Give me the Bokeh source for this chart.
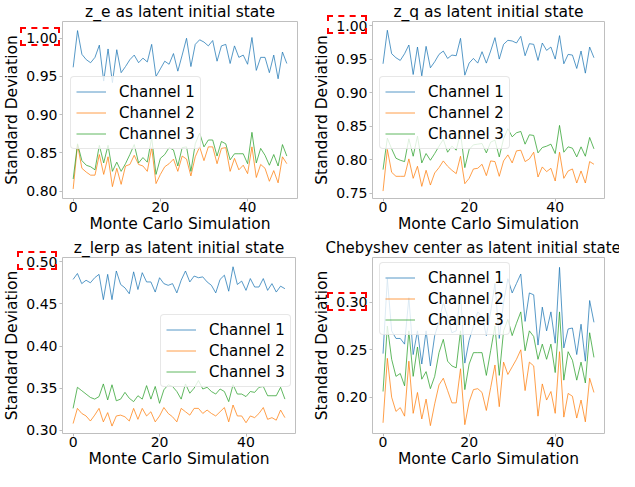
from bokeh.plotting import figure
from bokeh.layouts import column, row
from bokeh.models import FixedTicker, Range1d, Legend, LegendItem, Div, PrintfTickFormatter
from bokeh.embed import file_html
from bokeh.resources import INLINE

FONT = "DejaVu Sans"

# ---------------- data ----------------
mc = list(range(50))
channel_labels = ["Channel 1", "Channel 2", "Channel 3"]
x_ticks = [0, 20, 40]

titles = ["z_e as latent initial state", "z_q as latent initial state",
          "z_lerp as latent initial state", "Chebyshev center as latent initial state"]

ze_c1 = [0.962, 1.010, 0.979, 0.972, 0.968, 0.975, 0.991, 0.944, 0.986, 0.942,
         0.985, 0.955, 0.963, 0.972, 0.978, 0.968, 0.974, 0.969, 0.992, 0.950,
         0.960, 0.970, 0.966, 0.980, 0.957, 0.978, 1.000, 0.963, 0.992, 0.998,
         0.995, 0.990, 0.997, 0.970, 0.990, 0.992, 0.967, 0.990, 0.975, 0.978,
         0.966, 1.001, 0.958, 0.975, 0.975, 0.955, 0.978, 0.947, 0.982, 0.967]
ze_c2 = [0.803, 0.861, 0.830, 0.825, 0.821, 0.821, 0.848, 0.822, 0.845, 0.806,
         0.830, 0.809, 0.833, 0.835, 0.847, 0.835, 0.833, 0.826, 0.857, 0.810,
         0.822, 0.832, 0.836, 0.842, 0.826, 0.846, 0.842, 0.820, 0.845, 0.858,
         0.840, 0.858, 0.858, 0.836, 0.856, 0.857, 0.826, 0.843, 0.828, 0.834,
         0.823, 0.858, 0.818, 0.835, 0.830, 0.813, 0.827, 0.811, 0.845, 0.836]
ze_c3 = [0.816, 0.862, 0.840, 0.834, 0.832, 0.828, 0.860, 0.837, 0.860, 0.826,
         0.838, 0.826, 0.836, 0.848, 0.861, 0.837, 0.844, 0.838, 0.870, 0.822,
         0.843, 0.848, 0.857, 0.854, 0.833, 0.857, 0.858, 0.826, 0.862, 0.876,
         0.858, 0.867, 0.867, 0.846, 0.865, 0.862, 0.841, 0.849, 0.849, 0.849,
         0.836, 0.877, 0.837, 0.856, 0.847, 0.834, 0.848, 0.833, 0.861, 0.846]

zq_c1 = [0.943, 0.993, 0.958, 0.952, 0.948, 0.958, 0.971, 0.927, 0.968, 0.925,
         0.969, 0.937, 0.946, 0.957, 0.962, 0.951, 0.956, 0.955, 0.981, 0.926,
         0.944, 0.951, 0.944, 0.961, 0.944, 0.962, 0.982, 0.950, 0.972, 0.978,
         0.977, 0.974, 0.984, 0.955, 0.973, 0.972, 0.948, 0.974, 0.963, 0.968,
         0.950, 0.985, 0.943, 0.957, 0.956, 0.936, 0.962, 0.929, 0.968, 0.952]
zq_c2 = [0.753, 0.815, 0.781, 0.775, 0.775, 0.775, 0.801, 0.772, 0.790, 0.760,
         0.784, 0.762, 0.780, 0.788, 0.798, 0.790, 0.784, 0.779, 0.805, 0.764,
         0.772, 0.786, 0.787, 0.793, 0.776, 0.798, 0.797, 0.775, 0.798, 0.807,
         0.795, 0.813, 0.814, 0.797, 0.801, 0.811, 0.774, 0.789, 0.782, 0.787,
         0.768, 0.811, 0.772, 0.783, 0.786, 0.765, 0.783, 0.765, 0.797, 0.793]
zq_c3 = [0.785, 0.832, 0.816, 0.802, 0.799, 0.797, 0.831, 0.805, 0.835, 0.795,
         0.809, 0.799, 0.809, 0.820, 0.830, 0.811, 0.820, 0.814, 0.840, 0.788,
         0.815, 0.822, 0.823, 0.824, 0.810, 0.826, 0.829, 0.804, 0.831, 0.846,
         0.834, 0.840, 0.842, 0.823, 0.837, 0.836, 0.810, 0.818, 0.820, 0.823,
         0.809, 0.851, 0.811, 0.819, 0.817, 0.804, 0.819, 0.805, 0.833, 0.816]

zl_c1 = [0.479, 0.486, 0.474, 0.478, 0.475, 0.481, 0.485, 0.455, 0.485, 0.455,
         0.489, 0.473, 0.469, 0.462, 0.488, 0.467, 0.487, 0.476, 0.476, 0.464,
         0.481, 0.474, 0.472, 0.474, 0.463, 0.478, 0.489, 0.476, 0.483, 0.481,
         0.482, 0.476, 0.472, 0.463, 0.479, 0.484, 0.465, 0.494, 0.473, 0.477,
         0.466, 0.480, 0.470, 0.470, 0.480, 0.466, 0.474, 0.464, 0.471, 0.468]
zl_c2 = [0.308, 0.326, 0.320, 0.317, 0.311, 0.318, 0.326, 0.310, 0.321, 0.305,
         0.317, 0.318, 0.316, 0.311, 0.326, 0.313, 0.326, 0.317, 0.322, 0.310,
         0.317, 0.327, 0.320, 0.316, 0.310, 0.326, 0.322, 0.318, 0.326, 0.326,
         0.320, 0.324, 0.320, 0.317, 0.322, 0.327, 0.310, 0.330, 0.317, 0.317,
         0.309, 0.317, 0.315, 0.320, 0.327, 0.313, 0.315, 0.312, 0.324, 0.315]
zl_c3 = [0.326, 0.351, 0.347, 0.343, 0.339, 0.337, 0.340, 0.355, 0.336, 0.354,
         0.335, 0.337, 0.345, 0.338, 0.334, 0.341, 0.337, 0.353, 0.337, 0.352,
         0.332, 0.348, 0.354, 0.352, 0.346, 0.337, 0.355, 0.344, 0.350, 0.359,
         0.349, 0.351, 0.346, 0.343, 0.349, 0.346, 0.334, 0.354, 0.343, 0.343,
         0.340, 0.346, 0.345, 0.351, 0.352, 0.341, 0.341, 0.341, 0.351, 0.337]

cc_c1 = [0.246, 0.325, 0.270, 0.262, 0.262, 0.256, 0.305, 0.245, 0.270, 0.235,
         0.270, 0.233, 0.265, 0.280, 0.300, 0.285, 0.268, 0.270, 0.310, 0.236,
         0.260, 0.275, 0.290, 0.285, 0.265, 0.290, 0.320, 0.262, 0.300, 0.325,
         0.310, 0.320, 0.330, 0.280, 0.310, 0.308, 0.255, 0.295, 0.270, 0.290,
         0.257, 0.337, 0.252, 0.272, 0.273, 0.245, 0.277, 0.238, 0.302, 0.279]
cc_c2 = [0.173, 0.241, 0.200, 0.185, 0.189, 0.180, 0.238, 0.183, 0.205, 0.177,
         0.198, 0.170, 0.193, 0.213, 0.220, 0.207, 0.194, 0.194, 0.230, 0.171,
         0.195, 0.208, 0.209, 0.205, 0.186, 0.210, 0.234, 0.190, 0.237, 0.224,
         0.232, 0.240, 0.250, 0.207, 0.237, 0.233, 0.180, 0.214, 0.197, 0.206,
         0.183, 0.248, 0.179, 0.204, 0.201, 0.178, 0.197, 0.174, 0.220, 0.205]
cc_c3 = [0.206, 0.275, 0.240, 0.222, 0.225, 0.212, 0.270, 0.222, 0.253, 0.219,
         0.227, 0.209, 0.222, 0.247, 0.261, 0.238, 0.233, 0.231, 0.270, 0.208,
         0.235, 0.247, 0.247, 0.247, 0.223, 0.249, 0.275, 0.223, 0.270, 0.282,
         0.265, 0.278, 0.290, 0.249, 0.270, 0.264, 0.240, 0.256, 0.240, 0.256,
         0.226, 0.290, 0.218, 0.248, 0.239, 0.218, 0.237, 0.215, 0.268, 0.242]

y_ticks = [[0.80, 0.85, 0.90, 0.95, 1.00],
           [0.75, 0.80, 0.85, 0.90, 0.95, 1.00],
           [0.30, 0.35, 0.40, 0.45, 0.50],
           [0.20, 0.25, 0.30]]
y_ranges = [(0.7905, 1.0219), (0.7419, 1.0061), (0.2962, 0.5050), (0.1617, 0.3474)]
marked_tick = [1.00, 1.00, 0.50, 0.30]   # tick labels highlighted with a red dashed box
series = [[ze_c1, ze_c2, ze_c3], [zq_c1, zq_c2, zq_c3],
          [zl_c1, zl_c2, zl_c3], [cc_c1, cc_c2, cc_c3]]

# ---------------- styling / layout ----------------
COLORS = ["#1f77b4", "#ff7f0e", "#2ca02c"]
X_RANGE = (-2.45, 51.45)
BORDER_TOP, BORDER_BOTTOM = 20, 38
ROW_H = [236, 235]
# (width, min_border_left, min_border_right)
geom = [(310, 60, 13), (309, 57, 15), (310, 57, 15), (309, 57, 15)]
legend_pos = [(8, 58), (7, 58), (98, 60), (7, 8)]
LEG_H = 71
TICK_OUT, LABEL_STANDOFF = 3, 2
title_style = [("15.5px", "center", 0), ("15.5px", "center", 0),
               ("15.5px", "center", 0), ("15px", "left", -47)]
BOX_W, BOX_H = 40, 19


def make_panel(i):
    width, bl, br = geom[i]
    height = ROW_H[i // 2]
    y0, y1 = y_ranges[i]
    p = figure(width=width, height=height, output_backend="svg", toolbar_location=None,
               x_range=Range1d(*X_RANGE), y_range=Range1d(y0, y1),
               min_border_left=bl, min_border_right=br,
               min_border_top=BORDER_TOP, min_border_bottom=BORDER_BOTTOM,
               title=titles[i])
    fsize, falign, foff = title_style[i]
    p.title.align = falign
    p.title.offset = foff
    p.title.text_font = FONT
    p.title.text_font_size = fsize
    p.title.text_font_style = "normal"
    p.title.text_color = "black"
    p.title.standoff = 1

    p.xgrid.visible = False
    p.ygrid.visible = False
    p.outline_line_color = "#bfbfbf"
    p.background_fill_color = "white"
    p.border_fill_color = "white"

    for ax in (p.xaxis[0], p.yaxis[0]):
        ax.axis_line_color = None
        ax.major_tick_line_color = "#bfbfbf"
        ax.major_tick_out = TICK_OUT
        ax.major_tick_in = 0
        ax.minor_tick_line_color = None
        ax.major_label_text_font = FONT
        ax.major_label_text_font_size = "14px"
        ax.major_label_text_color = "black"
        ax.axis_label_text_font = FONT
        ax.axis_label_text_font_size = "15.5px"
        ax.axis_label_text_font_style = "normal"
        ax.axis_label_text_color = "black"
    p.xaxis.ticker = FixedTicker(ticks=x_ticks)
    p.xaxis.major_label_standoff = 0
    p.xaxis.axis_label_standoff = 0
    p.xaxis.axis_label = "Monte Carlo Simulation"
    p.yaxis.ticker = FixedTicker(ticks=y_ticks[i])
    p.yaxis.formatter = PrintfTickFormatter(format="%.2f")
    p.yaxis.major_label_standoff = LABEL_STANDOFF
    p.yaxis.axis_label_standoff = 2
    p.yaxis.axis_label = "Standard Deviation"

    renderers = []
    for vals, col in zip(series[i], COLORS):
        r = p.line(mc, vals, line_color=col, line_width=1, line_alpha=0.75)
        renderers.append(r)

    fh = height - BORDER_TOP - BORDER_BOTTOM
    lx, ly_top = legend_pos[i]
    legend = Legend(items=[LegendItem(label=lab, renderers=[r])
                           for lab, r in zip(channel_labels, renderers)],
                    location=(lx, fh - ly_top - LEG_H))
    legend.label_text_font = FONT
    legend.label_text_font_size = "15px"
    legend.label_text_color = "black"
    legend.label_height = 19
    legend.glyph_height = 19
    legend.glyph_width = 30
    legend.label_standoff = 13
    legend.spacing = 2
    legend.padding = 5
    legend.margin = 0
    legend.border_line_color = "#d0d0d0"
    legend.border_radius = 4
    legend.background_fill_color = "white"
    legend.background_fill_alpha = 0.8
    p.add_layout(legend)
    return p


def mark_box(i):
    # red dashed frame over the highlighted y tick label, overlaid with CSS
    width, bl, br = geom[i]
    height = ROW_H[i // 2]
    y0, y1 = y_ranges[i]
    fh = height - BORDER_TOP - BORDER_BOTTOM
    ox = 0 if i % 2 == 0 else geom[0][0]
    oy = 0 if i < 2 else ROW_H[0]
    ty = oy + BORDER_TOP + (y1 - marked_tick[i]) * fh / (y1 - y0)
    left = ox + bl - BOX_W
    top = ty - BOX_H / 2
    return Div(text="", width=BOX_W, height=BOX_H, margin=0,
               styles={"position": "absolute", "left": "%.1fpx" % left,
                       "top": "%.1fpx" % top, "border": "2px dashed red",
                       "box-sizing": "border-box", "z-index": "10",
                       "pointer-events": "none", "background": "transparent"})


panels = [make_panel(i) for i in range(4)]
boxes = [mark_box(i) for i in range(4)]
layout = column(row(panels[0], panels[1]), row(panels[2], panels[3]), *boxes,
                styles={"position": "relative"})

open("out.html", "w").write(file_html(layout, INLINE))
